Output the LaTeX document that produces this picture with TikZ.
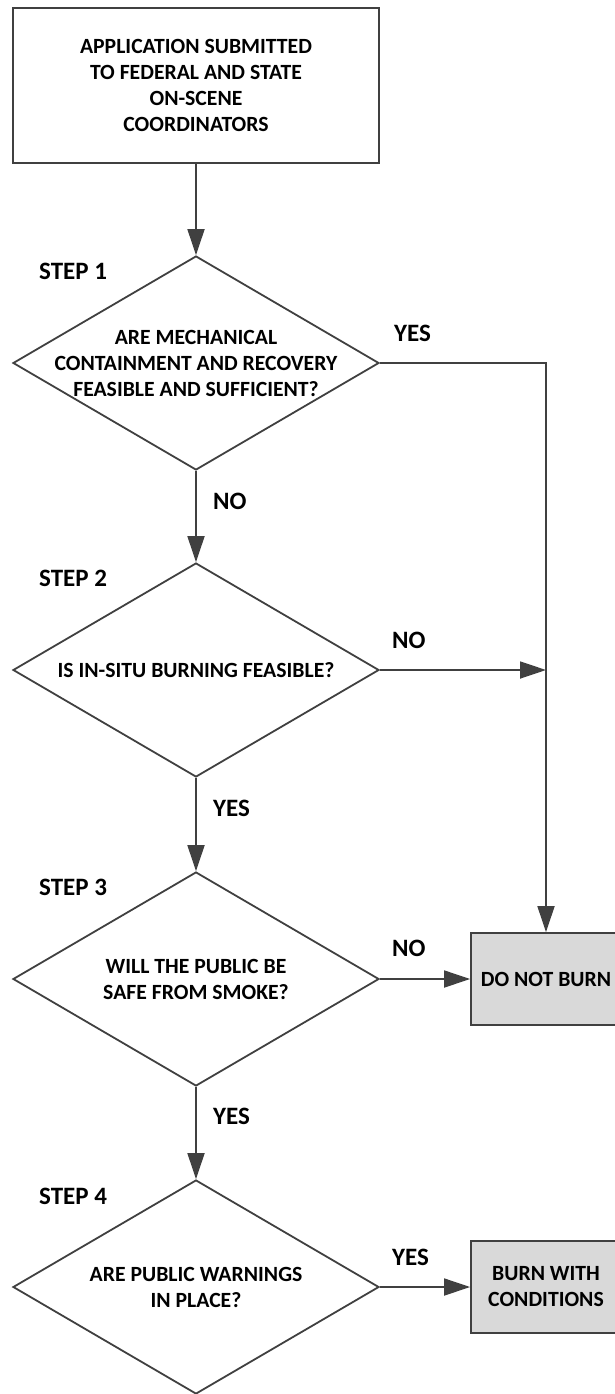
\documentclass[tikz,border=0pt]{standalone}
\usepackage{fontspec}
\setmainfont{Carlito}
\usetikzlibrary{shapes.geometric,arrows.meta}
\definecolor{lc}{HTML}{404040}
\definecolor{gfill}{HTML}{D9D9D9}
\begin{document}
\begin{tikzpicture}[x=1pt,y=-1pt,
  line/.style={draw=lc, line width=1.8pt},
  arr/.style={line, -{Triangle[length=26pt,width=17pt]}},
  body/.style={font=\bfseries\fontsize{21.7}{26}\selectfont, align=center},
  box/.style={line, body, inner sep=0pt, minimum width=366pt, minimum height=155pt},
  dec/.style={diamond, line, inner sep=0pt, minimum width=366pt, minimum height=214pt},
  qtext/.style={body, inner sep=0pt},
  gbox/.style={line, fill=gfill, body, inner sep=0pt, minimum width=150pt, minimum height=92pt},
  lbl/.style={font=\bfseries\fontsize{25}{30}\selectfont, inner sep=0pt, anchor=west}
]
\useasboundingbox (0,0) rectangle (614,1394);
\node[box] (app) at (196,85.5) {APPLICATION SUBMITTED\\TO FEDERAL AND STATE\\ON-SCENE\\COORDINATORS};

\node[dec] (d1) at (196,363) {};
\node[qtext] (t1) at (d1) {ARE MECHANICAL\\CONTAINMENT AND RECOVERY\\FEASIBLE AND SUFFICIENT?};
\node[dec] (d2) at (196,670) {};
\node[qtext] (t2) at (d2) {IS IN-SITU BURNING FEASIBLE?};
\node[dec] (d3) at (196,979) {};
\node[qtext] (t3) at (d3) {WILL THE PUBLIC BE\\SAFE FROM SMOKE?};
\node[dec] (d4) at (196,1287) {};
\node[qtext] (t4) at (d4) {ARE PUBLIC WARNINGS\\IN PLACE?};

\node[gbox] (nb) at (546,979) {DO NOT BURN};
\node[gbox] (bw) at (546,1287) {BURN WITH\\CONDITIONS};

\node[lbl] (s1) at (39,271) {STEP 1};
\node[lbl] (s2) at (39,578) {STEP 2};
\node[lbl] (s3) at (39,887) {STEP 3};
\node[lbl] (s4) at (39,1196) {STEP 4};

\node[lbl] (y1) at (394,333) {YES};
\node[lbl] (n2) at (392,640) {NO};
\node[lbl] (n3) at (392,948) {NO};
\node[lbl] (y4) at (392,1257) {YES};

\node[lbl] (n1) at (213,501) {NO};
\node[lbl] (y2) at (213,808) {YES};
\node[lbl] (y3) at (213,1116) {YES};

\draw[arr] (app.south) -- (d1.north);
\draw[arr] (d1.south) -- (d2.north);
\draw[arr] (d2.south) -- (d3.north);
\draw[arr] (d3.south) -- (d4.north);
\draw[arr] (d1.east) -- (d1.east -| nb.north) -- (nb.north);
\draw[arr] (d2.east) -- (d2.east -| nb.north);
\draw[arr] (d3.east) -- (nb.west);
\draw[arr] (d4.east) -- (bw.west);
\end{tikzpicture}
\end{document}
